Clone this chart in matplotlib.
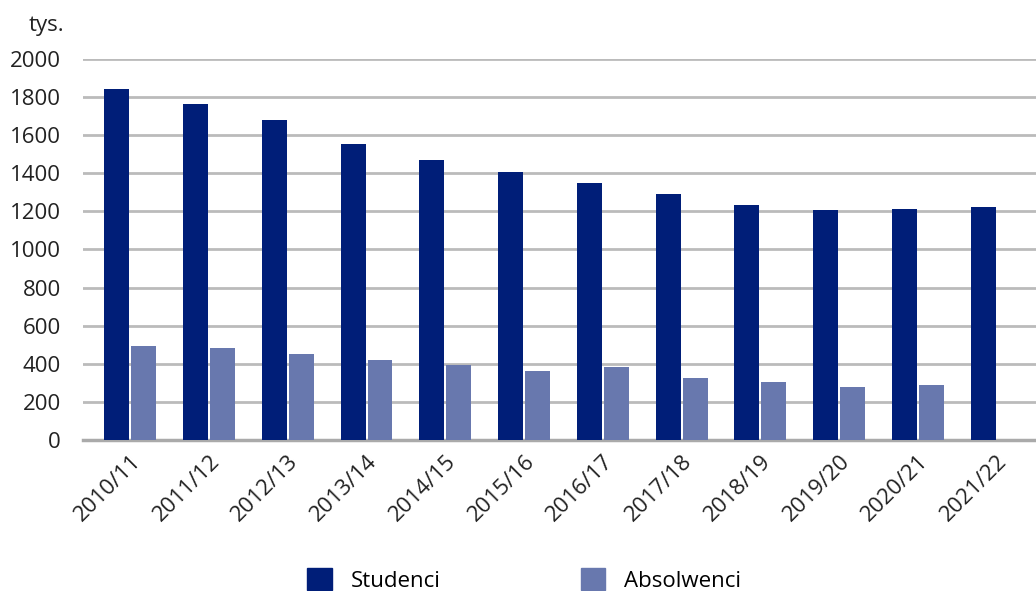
import numpy as np
import matplotlib
matplotlib.use('Agg')
import matplotlib.pyplot as plt
from matplotlib.patches import Patch

plt.rcParams['font.family'] = ['Open Sans', 'DejaVu Sans']

years = ['2010/11', '2011/12', '2012/13', '2013/14', '2014/15', '2015/16',
         '2016/17', '2017/18', '2018/19', '2019/20', '2020/21', '2021/22']
studenci = [1842, 1764, 1680, 1554, 1470, 1407, 1349, 1291, 1234, 1207, 1213, 1223]
absolwenci = [493, 483, 451, 420, 394, 362, 383, 325, 304, 278, 289, np.nan]

c_stud = '#001E78'
c_abs = '#6878AE'

fig = plt.figure(figsize=(10.36, 5.91), dpi=100)
ax = fig.add_axes([0.0801, 0.2555, 0.9199, 0.6447])

x = np.arange(len(years))
w = 0.317
ax.bar(x - 0.171, studenci, w, color=c_stud, zorder=3)
ax.bar(x + 0.171, absolwenci, w, color=c_abs, zorder=3)

ax.set_xlim(-0.6, 11.5)
ax.set_ylim(0, 2000)
ax.set_yticks(np.arange(0, 2001, 200))
ax.yaxis.grid(True, color='#BBBBBB', linewidth=2)
ax.set_axisbelow(True)
for s in ['top', 'right', 'left']:
    ax.spines[s].set_visible(False)
ax.spines['bottom'].set_color('#AAAAAA')
ax.spines['bottom'].set_linewidth(2.5)
ax.tick_params(axis='both', length=0, labelsize=16, colors='#222222')
ax.tick_params(axis='y', pad=16)
ax.set_xticks(x)
ax.set_xticklabels(years, rotation=45, ha='right', rotation_mode='anchor')
ax.tick_params(axis='x', pad=8)

fig.text(64 / 1036, 1 - 25 / 591, 'tys.', ha='right', va='center', fontsize=16, color='#222222')

handles = [Patch(color=c_stud, label='Studenci'), Patch(color=c_abs, label='Absolwenci')]
fig.legend(handles=handles, loc='lower center', bbox_to_anchor=(0.506, -0.035), ncol=2,
           frameon=False, fontsize=16, handlelength=1.1, handleheight=1.1,
           columnspacing=6.3, handletextpad=0.85)

fig.savefig('out.png', dpi=100)
